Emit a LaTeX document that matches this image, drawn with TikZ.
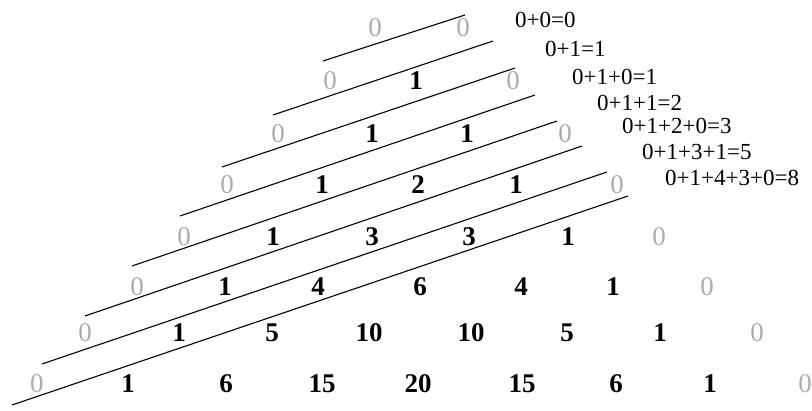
\documentclass[tikz,border=0pt]{standalone}
\usepackage{fontspec}
\setmainfont{Liberation Serif}
\definecolor{zerogray}{RGB}{172,172,172}
\begin{document}
\begin{tikzpicture}[x=1pt,y=-1pt,
  num/.style={inner sep=0pt,anchor=center,font=\fontsize{27}{27}\selectfont\bfseries,text=black},
  zer/.style={inner sep=0pt,anchor=center,font=\fontsize{27}{27}\selectfont,text=zerogray},
  sumlbl/.style={inner sep=0pt,anchor=west,font=\fontsize{23}{23}\selectfont,text=black},
  diag/.style={draw=black,line width=1.1pt}]
\useasboundingbox (0,0) rectangle (812,411);
% row 0
\node[zer] (r0a) at (375,27.5) {0};
\node[zer] (r0b) at (463,27.5) {0};
% row 1
\node[zer] (r1a) at (330,81) {0};
\node[num] (r1b) at (416,81) {1};
\node[zer] (r1c) at (513,81) {0};
% row 2
\node[zer] (r2a) at (278,134) {0};
\node[num] (r2b) at (372,134) {1};
\node[num] (r2c) at (467,134) {1};
\node[zer] (r2d) at (565,134) {0};
% row 3
\node[zer] (r3a) at (227,185) {0};
\node[num] (r3b) at (322,185) {1};
\node[num] (r3c) at (418,185) {2};
\node[num] (r3d) at (516,185) {1};
\node[zer] (r3e) at (617,185) {0};
% row 4
\node[zer] (r4a) at (184,237) {0};
\node[num] (r4b) at (273,237) {1};
\node[num] (r4c) at (372,237) {3};
\node[num] (r4d) at (469,237) {3};
\node[num] (r4e) at (568,237) {1};
\node[zer] (r4f) at (659,237) {0};
% row 5
\node[zer] (r5a) at (137,287) {0};
\node[num] (r5b) at (225,287) {1};
\node[num] (r5c) at (318,287) {4};
\node[num] (r5d) at (420,287) {6};
\node[num] (r5e) at (521,287) {4};
\node[num] (r5f) at (613,287) {1};
\node[zer] (r5g) at (707,287) {0};
% row 6
\node[zer] (r6a) at (85,333) {0};
\node[num] (r6b) at (179,333) {1};
\node[num] (r6c) at (272,333) {5};
\node[num] (r6d) at (369,333) {10};
\node[num] (r6e) at (471,333) {10};
\node[num] (r6f) at (567,333) {5};
\node[num] (r6g) at (660,333) {1};
\node[zer] (r6h) at (757,333) {0};
% row 7
\node[zer] (r7a) at (37,384) {0};
\node[num] (r7b) at (128,384) {1};
\node[num] (r7c) at (226,384) {6};
\node[num] (r7d) at (322,384) {15};
\node[num] (r7e) at (418,384) {20};
\node[num] (r7f) at (522,384) {15};
\node[num] (r7g) at (616,384) {6};
\node[num] (r7h) at (710,384) {1};
\node[zer] (r7i) at (805,384) {0};
% sums
\node[sumlbl] (s1) at (515,20) {0+0=0};
\node[sumlbl] (s2) at (545,49) {0+1=1};
\node[sumlbl] (s3) at (572,77) {0+1+0=1};
\node[sumlbl] (s4) at (597,103) {0+1+1=2};
\node[sumlbl] (s5) at (622,126) {0+1+2+0=3};
\node[sumlbl] (s6) at (642,152) {0+1+3+1=5};
\node[sumlbl] (s7) at (665,178) {0+1+4+3+0=8};
% diagonal lines
\coordinate (l1a) at (323,61);  \coordinate (l1b) at (465,15);
\coordinate (l2a) at (273,115); \coordinate (l2b) at (493,41);
\coordinate (l3a) at (222,167); \coordinate (l3b) at (515,68);
\coordinate (l4a) at (180,216); \coordinate (l4b) at (535,95);
\coordinate (l5a) at (132,266); \coordinate (l5b) at (557,121);
\coordinate (l6a) at (85,316);  \coordinate (l6b) at (582,146);
\coordinate (l7a) at (42,364);  \coordinate (l7b) at (607,172);
\coordinate (l8a) at (12,405);  \coordinate (l8b) at (628,196);
\foreach \i in {1,...,8} { \draw[diag] (l\i a) -- (l\i b); }
\end{tikzpicture}
\end{document}
